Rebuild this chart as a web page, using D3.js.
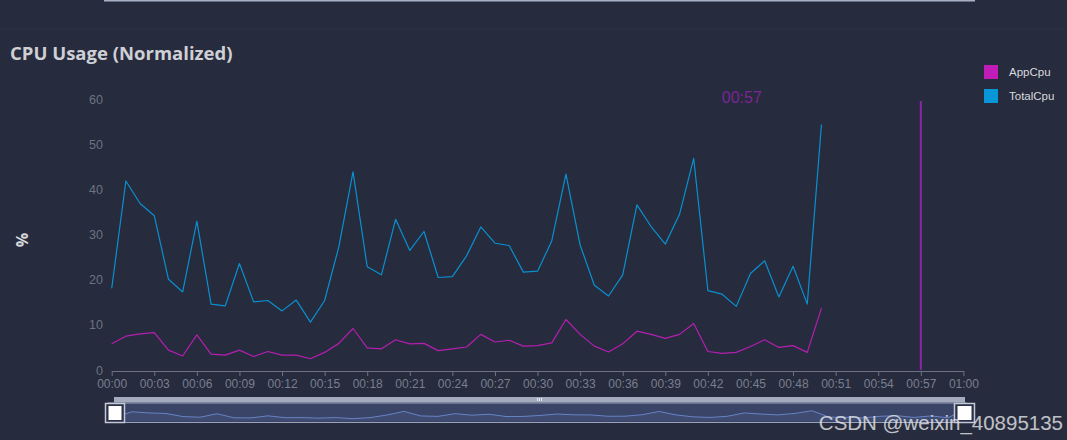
<!DOCTYPE html>
<html><head><meta charset="utf-8">
<script src="https://cdn.jsdelivr.net/npm/d3@7"></script>
<style>
html,body{margin:0;padding:0;background:#262b3d;}
svg{display:block;}
</style></head>
<body>
<svg id="c" width="1067" height="440"></svg>
<script>
// ---- data ----
const seconds = d3.range(0, 51);
const totalCpu = [18.1,41.9,36.9,34.2,20.1,17.3,33.0,14.6,14.2,23.6,15.1,15.4,13.1,15.5,10.6,15.4,27.3,43.9,
  22.9,21.1,33.4,26.5,30.7,20.5,20.7,25.3,31.7,28.1,27.6,21.7,21.9,28.6,43.4,27.7,18.8,16.4,21.1,36.6,
  31.8,27.9,34.5,46.9,17.6,16.8,14.1,21.4,24.2,16.2,23.0,14.6,54.4];
const appCpu = [5.8,7.5,8.0,8.3,4.4,3.1,7.8,3.5,3.3,4.4,3.0,4.1,3.3,3.3,2.5,3.9,5.9,9.2,
  4.9,4.7,6.7,5.8,5.9,4.3,4.7,5.1,7.9,6.2,6.6,5.3,5.4,6.0,11.2,7.9,5.3,4.0,5.8,8.6,
  7.9,7.0,7.9,10.3,4.1,3.7,3.9,5.2,6.7,5.0,5.4,3.9,13.7];
const seriesNames = ["AppCpu","TotalCpu"];
const seriesColors = ["#c21cb8","#0796d8"];
const lineColors = ["#b51fb0","#0a90d0"];
const xTickValues = d3.range(0, 61, 3);
const xTickLabels = xTickValues.map(s => s === 60 ? "01:00" : "00:" + String(s).padStart(2,"0"));
const yTickValues = [0,10,20,30,40,50,60];
const markerSecond = 57;
const markerLabel = "00:57";

const svg = d3.select("#c");
const FONT = "'Liberation Sans', Arial, sans-serif";

// top remnant of previous chart's slider + separator
svg.append("rect").attr("x",104).attr("y",0).attr("width",871).attr("height",1.5).attr("fill","#a9b1c6");
svg.append("rect").attr("x",0).attr("y",28.5).attr("width",1067).attr("height",1).attr("fill","#2d3347");

// title
svg.append("text").attr("x",10).attr("y",60).text("CPU Usage (Normalized)")
  .attr("font-family","'Open Sans', sans-serif").attr("font-weight",700).attr("font-size",18.5)
  .attr("fill","#cfd0d5");

// scales
const x = d3.scaleLinear().domain([0,60]).range([111.7,963.4]);
const y = d3.scaleLinear().domain([0,60]).range([370,99.3]);

// y tick labels (no axis line)
const yAxis = d3.axisLeft(y).tickValues(yTickValues).tickSize(0).tickPadding(0);
const gy = svg.append("g").attr("transform","translate(103,0)").call(yAxis);
gy.select(".domain").remove();
gy.selectAll("text").attr("font-family",FONT).attr("font-size",12.5).attr("fill","#6d7284");

// x axis
const xAxis = d3.axisBottom(x).tickValues(xTickValues).tickFormat((d,i)=>xTickLabels[i]).tickSize(5).tickSizeOuter(0).tickPadding(3);
const gx = svg.append("g").attr("transform","translate(0,371)").call(xAxis);
gx.select(".domain").attr("stroke","#6e7283");
gx.selectAll(".tick line").attr("stroke","#6e7283");
gx.selectAll("text").attr("font-family",FONT).attr("font-size",12).attr("fill","#7a7f8f");

// y axis name
svg.append("text").attr("transform","translate(28,240) rotate(-90)").attr("text-anchor","middle")
  .text("%").attr("font-family","'Open Sans', sans-serif").attr("font-weight",700).attr("font-size",16).attr("fill","#d8d9dd");

// lines
const line = d3.line().x((d,i)=>x(seconds[i])).y(d=>y(d));
[appCpu, totalCpu].forEach((arr,k)=>{
  svg.append("path").datum(arr).attr("d",line).attr("fill","none")
    .attr("stroke",lineColors[k]).attr("stroke-width",1.2).attr("stroke-linejoin","round");
});

// marker line
svg.append("line").attr("x1",x(markerSecond)).attr("x2",x(markerSecond)).attr("y1",101).attr("y2",370)
  .attr("stroke","#8e22a8").attr("stroke-width",2);
svg.append("text").attr("x",x(markerSecond)-179).attr("y",103).attr("text-anchor","middle").text(markerLabel)
  .attr("font-family",FONT).attr("font-size",16).attr("fill","#7b2596");

// legend
seriesNames.forEach((n,i)=>{
  const gy0 = 65 + i*24;
  svg.append("rect").attr("x",984).attr("y",gy0).attr("width",14).attr("height",14).attr("fill",seriesColors[i]);
  svg.append("text").attr("x",1009).attr("y",gy0+11).text(n)
    .attr("font-family",FONT).attr("font-size",11.5).attr("fill","#d9dadf");
});

// data zoom slider
svg.append("rect").attr("x",114).attr("y",397).attr("width",851).attr("height",5.5).attr("fill","#a4abbe");
svg.append("rect").attr("x",108).attr("y",403).attr("width",858).attr("height",19.5)
  .attr("fill","#3a4466").attr("stroke","#9aa2ba").attr("stroke-width",1);
const mx = d3.scaleLinear().domain([0,50]).range([115,965]);
const my = d3.scaleLinear().domain([0,82]).range([421,403]);
const marea = d3.area().x((d,i)=>mx(seconds[i])).y0(421).y1(d=>my(d));
const mline = d3.line().x((d,i)=>mx(seconds[i])).y(d=>my(d));
svg.append("path").datum(totalCpu).attr("d",marea).attr("fill","#4a5a88").attr("opacity",0.35);
svg.append("path").datum(totalCpu).attr("d",mline).attr("fill","none").attr("stroke","#6683c4").attr("stroke-width",1);
// grip
[-2,0,2].forEach(o=>svg.append("rect").attr("x",539+o).attr("y",398).attr("width",1).attr("height",3).attr("fill","#e8eaf0"));
// handles
[[105,125],[954,975]].forEach(([a,b])=>{
  svg.append("rect").attr("x",a+0.5).attr("y",403.5).attr("width",b-a-1).attr("height",19)
    .attr("fill","#2a3046").attr("stroke","#c3c8d8").attr("stroke-width",1.5);
  svg.append("rect").attr("x",a+3.5).attr("y",406).attr("width",b-a-7).attr("height",14).attr("fill","#ffffff");
});

// watermark
svg.append("text").attr("x",1063).attr("y",430).attr("text-anchor","end").text("CSDN @weixin_40895135")
  .attr("font-family",FONT).attr("font-size",20.5).attr("fill","#e6e7ea").attr("opacity",0.8);
</script>
</body></html>
